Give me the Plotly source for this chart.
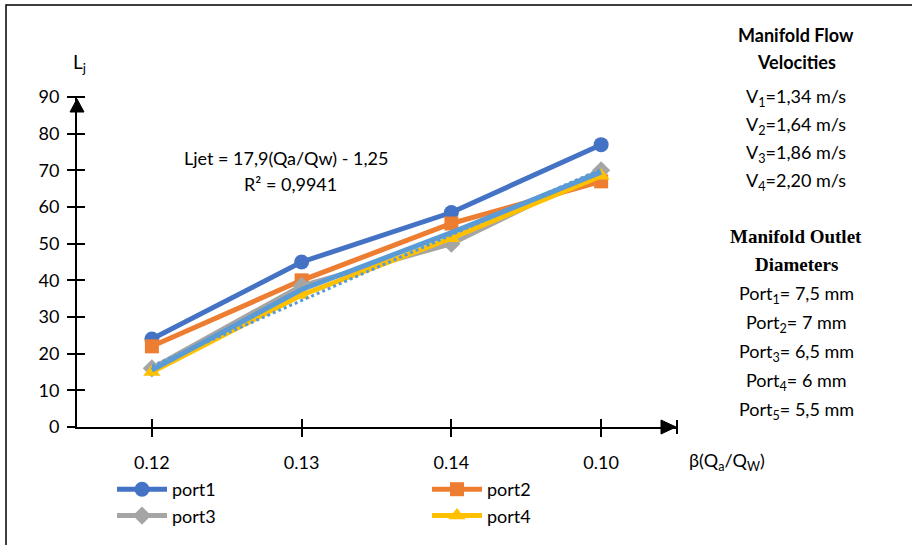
import plotly.graph_objects as go

categories = ["0.12", "0.13", "0.14", "0.10"]
port1 = [24, 45, 58.5, 77]
port2 = [22, 40, 55.5, 67]
port3 = [16, 38.5, 50, 70]
port4 = [15, 36, 51.5, 68.5]
port5 = [15.5, 37.5, 53, 69.5]
trend = [16.6, 34.5, 52.4, 70.3]
y_ticks = [0, 10, 20, 30, 40, 50, 60, 70, 80, 90]

W, H = 912, 545
L, R, T, B = 77, 236, 97, 118
PW, PH = W - L - R, H - T - B

def px(x):
    return (x - L) / PW

def py(y):
    return (H - B - y) / PH

FONT = "Lato"
fig = go.Figure()

fig.add_trace(go.Scatter(x=categories, y=port1, name="port1", mode="lines+markers",
                         line=dict(color="#4472C4", width=5),
                         marker=dict(symbol="circle", size=15, color="#4472C4"), legend="legend"))
fig.add_trace(go.Scatter(x=categories, y=port2, name="port2", mode="lines+markers",
                         line=dict(color="#ED7D31", width=5),
                         marker=dict(symbol="square", size=14, color="#ED7D31"), legend="legend2"))
fig.add_trace(go.Scatter(x=categories, y=port3, name="port3", mode="lines+markers",
                         line=dict(color="#A5A5A5", width=5),
                         marker=dict(symbol="diamond", size=14, color="#A5A5A5"), legend="legend"))
fig.add_trace(go.Scatter(x=categories, y=port4, name="port4", mode="lines+markers",
                         line=dict(color="#FFC000", width=5),
                         marker=dict(symbol="triangle-up", size=15, color="#FFC000"), legend="legend2"))
fig.add_trace(go.Scatter(x=categories, y=port5, name="port5", mode="lines",
                         line=dict(color="#5B9BD5", width=5), showlegend=False))
fig.add_trace(go.Scatter(x=categories, y=trend, name="trend", mode="lines",
                         line=dict(color="#5B9BD5", width=3, dash="dot"), showlegend=False))
# helper trace for inside tick overlay axes
fig.add_trace(go.Scatter(x=categories, y=[None] * 4, xaxis="x2", yaxis="y2",
                         showlegend=False, hoverinfo="skip"))

axis_common = dict(showgrid=False, zeroline=False, showline=True, linecolor="black",
                   linewidth=2, tickcolor="black", tickwidth=2, ticklen=8, automargin=False)
fig.update_layout(
    width=W, height=H,
    margin=dict(l=L, r=R, t=T, b=B, autoexpand=False),
    paper_bgcolor="white", plot_bgcolor="white",
    font=dict(family=FONT, size=18, color="black"),
    xaxis=dict(type="category", categoryarray=categories, range=[-0.5, 3.5],
               ticks="outside", tickfont=dict(size=18), ticklabelstandoff=10, **axis_common),
    yaxis=dict(range=[0, 90], tickvals=y_ticks, ticks="outside", tickfont=dict(size=18),
               ticklabelstandoff=4, **axis_common),
    xaxis2=dict(type="category", categoryarray=categories, range=[-0.5, 3.5], overlaying="x",
                ticks="inside", showticklabels=False, anchor="y2", **axis_common),
    yaxis2=dict(range=[0, 90], tickvals=y_ticks, overlaying="y", ticks="inside",
                showticklabels=False, anchor="x2", **axis_common),
    legend=dict(x=px(112), y=py(471), xanchor="left", yanchor="top", orientation="v",
                font=dict(size=18, family=FONT), bgcolor="rgba(0,0,0,0)", itemwidth=50,
                tracegroupgap=0, traceorder="normal"),
    legend2=dict(x=px(427), y=py(471), xanchor="left", yanchor="top", orientation="v",
                 font=dict(size=18, family=FONT), bgcolor="rgba(0,0,0,0)", itemwidth=50,
                 tracegroupgap=0, traceorder="normal"),
    showlegend=True,
)

shapes = []
# outer frame (cropped at right/bottom)
shapes.append(dict(type="rect", xref="paper", yref="paper", x0=px(6), x1=px(940), y0=py(570), y1=py(5),
                   line=dict(color="black", width=1.5), fillcolor="rgba(0,0,0,0)", layer="below"))
# y axis arrow and bar
shapes.append(dict(type="path", xref="paper", yref="paper",
                   path=f"M {px(77)} {py(99)} L {px(70)} {py(112)} L {px(84)} {py(112)} Z",
                   fillcolor="black", line=dict(color="black", width=1)))
shapes.append(dict(type="line", xref="paper", yref="paper", x0=px(69), x1=px(85), y0=py(97), y1=py(97),
                   line=dict(color="black", width=2)))
# x axis arrow and bar
shapes.append(dict(type="path", xref="paper", yref="paper",
                   path=f"M {px(676)} {py(427)} L {px(661)} {py(420)} L {px(661)} {py(434)} Z",
                   fillcolor="black", line=dict(color="black", width=1)))
shapes.append(dict(type="line", xref="paper", yref="paper", x0=px(677), x1=px(677), y0=py(420), y1=py(434),
                   line=dict(color="black", width=2)))
fig.update_layout(shapes=shapes)

ann = []
def text(x, y, s, size=18, family=FONT, xanchor="center"):
    ann.append(dict(x=px(x), y=py(y), xref="paper", yref="paper", text=s, showarrow=False,
                    font=dict(size=size, family=family, color="black"), xanchor=xanchor, yanchor="middle"))

text(79, 63, "L<sub>j</sub>", size=19)
text(687, 461, "β(Q<sub>a</sub>/Q<sub>W</sub>)", size=18, xanchor="left")
text(286, 158, "Ljet = 17,9(Qa/Qw) - 1,25", size=18)
text(290, 184, "R² = 0,9941", size=18)

cx = 796
text(cx, 35, "<b>Manifold Flow</b>", size=18)
text(cx, 62, "<b>Velocities</b>", size=18)
text(cx, 97, "V<sub>1</sub>=1,34 m/s", size=18)
text(cx, 125, "V<sub>2</sub>=1,64 m/s", size=18)
text(cx, 153, "V<sub>3</sub>=1,86 m/s", size=18)
text(cx, 181, "V<sub>4</sub>=2,20 m/s", size=18)
text(cx, 237, "<b>Manifold Outlet</b>", size=19, family="Liberation Serif")
text(cx, 264, "<b>Diameters</b>", size=19, family="Liberation Serif")
text(cx, 294, "Port<sub>1</sub>= 7,5 mm", size=18)
text(cx, 323, "Port<sub>2</sub>= 7 mm", size=18)
text(cx, 352, "Port<sub>3</sub>= 6,5 mm", size=18)
text(cx, 381, "Port<sub>4</sub>= 6 mm", size=18)
text(cx, 410, "Port<sub>5</sub>= 5,5 mm", size=18)
fig.update_layout(annotations=ann)

fig.write_html("out.html")
